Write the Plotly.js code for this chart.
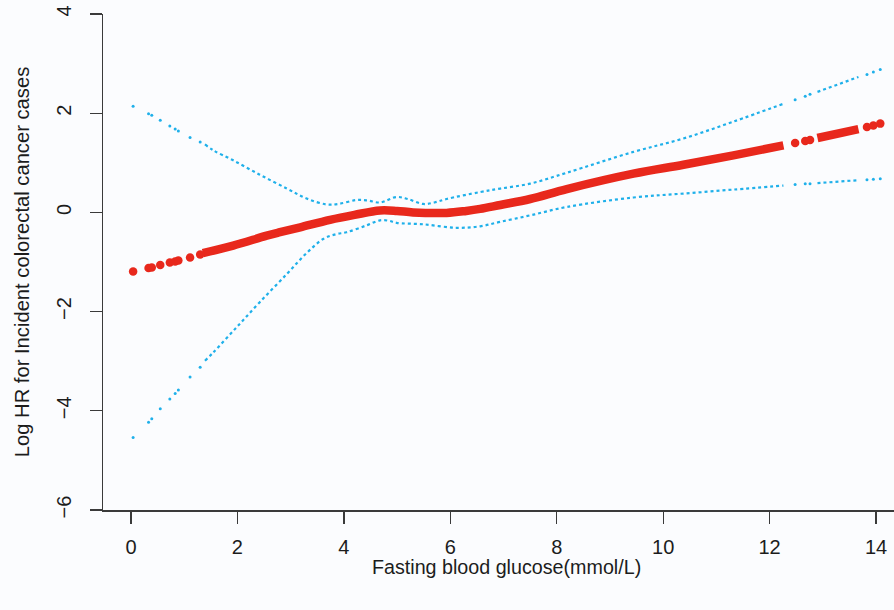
<!DOCTYPE html>
<html>
<head>
<meta charset="utf-8">
<script src="https://cdn.plot.ly/plotly-3.0.1.min.js"></script>
<style>html,body{margin:0;padding:0;background:#fbfcfe;}#chart{width:894px;height:610px;}</style>
</head>
<body>
<div id="chart"></div>
<script>
// Sparse observations at the low end of glucose (drawn as separate dots)
var sparseLowX    = [0.04, 0.33, 0.39, 0.55, 0.73, 0.83, 0.89, 1.11, 1.30];
var sparseLowFit  = [-1.19, -1.12, -1.11, -1.06, -1.01, -0.99, -0.97, -0.91, -0.85];
var sparseLowUp   = [2.14, 1.99, 1.96, 1.86, 1.74, 1.68, 1.64, 1.51, 1.42];
var sparseLowLo   = [-4.54, -4.23, -4.16, -3.96, -3.76, -3.65, -3.58, -3.32, -3.12];

// Sparse observations at the high end
var sparseHighX   = [12.48, 12.67, 12.76, 13.83, 13.95, 14.08];
var sparseHighFit = [1.40, 1.44, 1.46, 1.72, 1.75, 1.79];
var sparseHighUp  = [2.27, 2.34, 2.38, 2.78, 2.83, 2.88];
var sparseHighLo  = [0.56, 0.58, 0.58, 0.66, 0.67, 0.68];

// Dense region: estimated curve (null separates segments)
var fitX = [1.35, 1.92, 2.55, 2.80, 3.18, 3.74, 4.20, 4.68, 5.00, 5.30, 5.93, 6.30, 6.56, 6.94, 7.50, 8.19, 9.44, 10.38, 11.32, 12.26, null, 12.90, 13.67];
var fitY = [-0.82, -0.67, -0.47, -0.40, -0.30, -0.15, -0.05, 0.04, 0.03, 0.00, -0.01, 0.03, 0.07, 0.15, 0.27, 0.47, 0.78, 0.96, 1.15, 1.35, null, 1.50, 1.68];

var upX = [1.39, 1.55, 1.92, 2.42, 2.93, 3.30, 3.68, 3.90, 4.24, 4.45, 4.68, 4.99, 5.20, 5.49, 5.70, 5.93, 6.56, 6.94, 7.50, 8.19, 9.44, 10.38, 11.32, 12.26, null, 12.90, 13.67];
var upY = [1.37, 1.25, 1.05, 0.76, 0.48, 0.28, 0.16, 0.17, 0.25, 0.24, 0.20, 0.31, 0.27, 0.17, 0.20, 0.27, 0.41, 0.48, 0.58, 0.80, 1.22, 1.49, 1.83, 2.19, null, 2.43, 2.73];

var loX = [1.39, 1.55, 1.99, 2.42, 2.93, 3.30, 3.62, 3.85, 4.05, 4.43, 4.68, 4.85, 4.99, 5.49, 6.12, 6.56, 6.94, 7.50, 8.19, 9.44, 10.38, 11.32, 12.26, null, 12.90, 13.67];
var loY = [-2.99, -2.82, -2.31, -1.81, -1.24, -0.82, -0.53, -0.44, -0.40, -0.26, -0.16, -0.17, -0.21, -0.24, -0.31, -0.28, -0.19, -0.06, 0.11, 0.30, 0.38, 0.46, 0.54, null, 0.59, 0.65];

var xTicks = [0, 2, 4, 6, 8, 10, 12, 14];
var yTicks = [-6, -4, -2, 0, 2, 4];

var RED = '#e8281c';
var BLUE = '#1fb0ea';

var traces = [
  {x: upX, y: upY, mode: 'lines', line: {color: BLUE, width: 2.2, dash: 'dot', shape: 'spline'}, hoverinfo: 'skip'},
  {x: loX, y: loY, mode: 'lines', line: {color: BLUE, width: 2.2, dash: 'dot', shape: 'spline'}, hoverinfo: 'skip'},
  {x: sparseLowX.concat(sparseHighX), y: sparseLowUp.concat(sparseHighUp), mode: 'markers', marker: {color: BLUE, size: 3}},
  {x: sparseLowX.concat(sparseHighX), y: sparseLowLo.concat(sparseHighLo), mode: 'markers', marker: {color: BLUE, size: 3}},
  {x: fitX, y: fitY, mode: 'lines', line: {color: RED, width: 8.5, shape: 'spline'}},
  {x: sparseLowX.concat(sparseHighX), y: sparseLowFit.concat(sparseHighFit), mode: 'markers', marker: {color: RED, size: 8.5}}
];

var layout = {
  width: 894, height: 610,
  margin: {l: 103, r: 0, t: 14, b: 100},
  paper_bgcolor: '#fbfcfe', plot_bgcolor: '#fbfcfe',
  showlegend: false,
  font: {family: 'Liberation Sans, Arial, sans-serif', color: '#1c1c1c', size: 19},
  xaxis: {
    range: [-0.526, 14.338], tickvals: xTicks, ticktext: xTicks.map(String),
    tickfont: {size: 20},
    showgrid: false, zeroline: false, showline: true, linecolor: '#3a3a3a', linewidth: 1.5,
    ticks: 'outside', ticklen: 12, tickwidth: 1.3, tickcolor: '#3a3a3a',
    ticklabelstandoff: 6,
    automargin: false
  },
  yaxis: {
    range: [-6, 4], tickvals: yTicks, ticktext: yTicks.map(function(v){return v < 0 ? '\u2212' + Math.abs(v) : String(v);}),
    tickangle: -90, tickfont: {size: 20},
    showgrid: false, zeroline: false, showline: true, linecolor: '#3a3a3a', linewidth: 1.5,
    ticks: 'outside', ticklen: 12, tickwidth: 1.3, tickcolor: '#3a3a3a',
    ticklabelstandoff: 11,
    title: {text: 'Log HR for Incident colorectal cancer cases', font: {size: 20.2}, standoff: 17},
    automargin: false
  },
  annotations: [{
    text: 'Fasting blood glucose(mmol/L)', xref: 'paper', yref: 'paper',
    x: 0.51, y: -0.115, xanchor: 'center', yanchor: 'middle', showarrow: false,
    font: {size: 19.7}
  }]
};

Plotly.newPlot('chart', traces, layout, {displayModeBar: false, staticPlot: true});
</script>
</body>
</html>
